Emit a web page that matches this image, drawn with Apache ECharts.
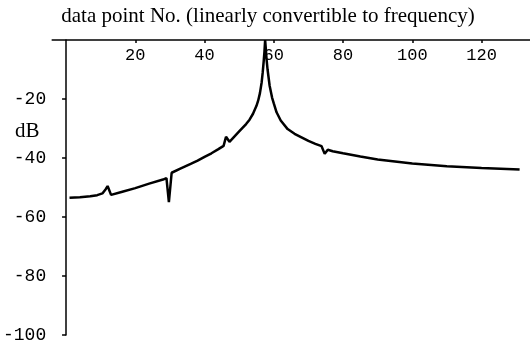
<!DOCTYPE html>
<html>
<head>
<meta charset="utf-8">
<script src="https://cdn.jsdelivr.net/npm/echarts@6/dist/echarts.min.js"></script>
<style>html,body{margin:0;padding:0;background:#fff}#c{width:530px;height:348px}</style>
</head>
<body>
<div id="c"></div>
<script>
var title = "data point No. (linearly convertible to frequency)";
var yName = "dB";
var xTicks = [20, 40, 60, 80, 100, 120];
var yTicks = [-100, -80, -60, -40, -20];
var pointNo = [1, 4, 7, 9, 10.5, 11.5, 12, 13, 16, 20, 24, 28, 29, 29.7, 30.5, 33, 36, 38, 40, 42, 44, 45.5, 46.2, 47.2, 48, 50, 52, 53, 54, 55, 55.5, 56, 56.5, 56.8, 57.1, 57.3, 57.5, 57.7, 57.9, 58.2, 58.8, 59.5, 60, 60.8, 62, 64, 66, 68, 70, 72, 73.8, 74.7, 75.6, 77, 80, 85, 90, 95, 100, 110, 120, 131];
var dB = [-53.5, -53.3, -53, -52.6, -52, -50.5, -49.5, -52.5, -51.5, -50.2, -48.7, -47.3, -46.8, -55, -45, -43.6, -42, -40.9, -39.6, -38.4, -37, -35.9, -32.8, -34.5, -33.5, -31, -28.5, -27, -25, -22.3, -20.5, -18, -14.3, -11, -7, -4, 0, -3, -6.4, -10, -15.5, -19.5, -21.5, -24.5, -27.3, -30.2, -31.8, -33, -34.2, -35.2, -36, -38.6, -37.2, -37.7, -38.4, -39.5, -40.5, -41.2, -41.9, -42.8, -43.4, -43.9];

var data = pointNo.map(function (x, i) { return [x, dB[i]]; });
var chart = echarts.init(document.getElementById('c'), null, {renderer: 'canvas'});
var mono = "'Liberation Mono', 'DejaVu Sans Mono', monospace";
var serif = "'Liberation Serif', 'DejaVu Serif', serif";
chart.setOption({
  animation: false,
  backgroundColor: '#fff',
  grid: {left: 50, right: 0, top: 40, bottom: 13, containLabel: false},
  xAxis: {
    type: 'value', position: 'top', min: -4, max: 134,
    axisLine: {onZero: false, lineStyle: {color: '#000', width: 1.5}},
    axisTick: {show: true, inside: true, length: 3, customValues: xTicks, lineStyle: {color: '#000', width: 1.5}},
    axisLabel: {inside: true, margin: 7, customValues: xTicks, color: '#000', fontFamily: mono, fontSize: 17},
    splitLine: {show: false}
  },
  yAxis: {
    type: 'value', min: -100, max: 0,
    axisLine: {onZero: true, lineStyle: {color: '#000', width: 1.5}},
    axisTick: {show: true, length: 4, customValues: yTicks, lineStyle: {color: '#000', width: 1.5}},
    axisLabel: {margin: 6, customValues: yTicks, color: '#000', fontFamily: mono, fontSize: 18},
    splitLine: {show: false}
  },
  graphic: [
    {type: 'text', x: 268, y: 6, style: {text: title, font: '21px ' + serif, fill: '#000', textAlign: 'center'}},
    {type: 'text', left: 15, top: 121, style: {text: yName, font: '21px ' + serif, fill: '#000'}}
  ],
  series: [{
    type: 'line', data: data, showSymbol: false, clip: false, smooth: false,
    lineStyle: {color: '#000', width: 2.5}
  }]
});
</script>
</body>
</html>
